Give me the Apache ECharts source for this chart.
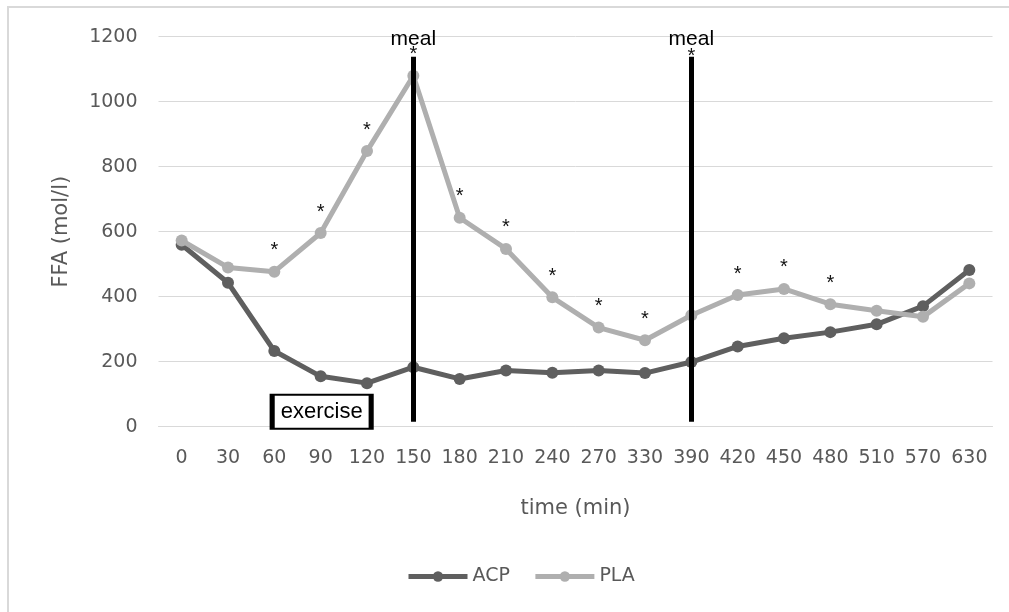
<!DOCTYPE html>
<html>
<head>
<meta charset="utf-8">
<script src="https://cdn.jsdelivr.net/npm/echarts@6/dist/echarts.min.js"></script>
<style>
html,body{margin:0;padding:0;background:#fff;overflow:hidden;}
#c{width:1009px;height:612px;}
</style>
</head>
<body>
<div id="c"></div>
<script>
var categories = ['0','30','60','90','120','150','180','210','240','270','330','390','420','450','480','510','570','630'];
var acp = [560, 443, 233, 155, 134, 183, 147, 173, 166, 173, 165, 199, 247, 272, 291, 315, 371, 482];
var pla = [573, 490, 477, 596, 848, 1080, 643, 547, 398, 305, 266, 343, 405, 424, 377, 357, 338, 441];
var sig = ['', '', '*', '*', '*', '*', '*', '*', '*', '*', '*', '', '*', '*', '*', '', '', ''];
var mealTimes = ['150', '390'];
var mealRange = [15, 1138];
var yTicks = { min: 0, max: 1200, interval: 200 };

var chart = echarts.init(document.getElementById('c'), null, {renderer: 'canvas'});
var txt = '#595959';
var tickFont = 'DejaVu Sans';

var option = {
  animation: false,
  backgroundColor: '#fff',
  graphic: [{
    type: 'polyline', silent: true, z: -1,
    shape: { points: [[8, 640], [8, 7], [1040, 7]] },
    style: { fill: 'none', stroke: '#d9d9d9', lineWidth: 2 }
  }],
  grid: { left: 158.5, right: 16.5, top: 36.7, bottom: 185.3, containLabel: false },
  legend: {
    data: ['ACP', 'PLA'],
    left: 406, top: 567, padding: 0,
    itemWidth: 59, itemHeight: 13, itemGap: 23,
    lineStyle: { width: 5 },
    textStyle: { color: txt, fontFamily: tickFont, fontSize: 19 }
  },
  xAxis: {
    type: 'category',
    data: categories,
    boundaryGap: true,
    name: 'time (min)',
    nameLocation: 'middle',
    nameGap: 71,
    nameTextStyle: { color: txt, fontFamily: tickFont, fontSize: 21 },
    axisLine: { show: true, lineStyle: { color: '#d9d9d9', width: 1 } },
    axisTick: { show: false },
    axisLabel: { color: txt, fontFamily: tickFont, fontSize: 19, margin: 22, interval: 0 },
    splitLine: { show: false }
  },
  yAxis: {
    type: 'value',
    min: yTicks.min, max: yTicks.max, interval: yTicks.interval,
    name: 'FFA (mol/l)',
    nameLocation: 'middle',
    nameGap: 86,
    nameRotate: 90,
    nameTextStyle: { color: txt, fontFamily: tickFont, fontSize: 21 },
    axisLine: { show: false },
    axisTick: { show: false },
    axisLabel: { color: txt, fontFamily: tickFont, fontSize: 19, margin: 21,
      formatter: function (v) { return String(v); } },
    splitLine: { lineStyle: { color: '#d9d9d9', width: 1 } }
  },
  series: [
    {
      name: 'ACP', type: 'line', data: acp, z: 2,
      symbol: 'circle', symbolSize: 12,
      lineStyle: { color: '#5f5f5f', width: 5 },
      itemStyle: { color: '#5f5f5f' }
    },
    {
      name: 'PLA', type: 'line', data: pla, z: 3,
      symbol: 'circle', symbolSize: 12,
      lineStyle: { color: '#afafaf', width: 5 },
      itemStyle: { color: '#afafaf' },
      label: {
        show: true, position: 'top', distance: 5,
        formatter: function (p) { return sig[p.dataIndex]; },
        color: '#111', fontFamily: 'Liberation Sans', fontSize: 20
      }
    },
    {
      name: 'annot', type: 'line', data: [], z: 6,
      markLine: {
        silent: true, symbol: ['none', 'none'], animation: false,
        lineStyle: { color: '#000', width: 5, type: 'solid' },
        label: {
          show: true, position: 'end', distance: 7, formatter: 'meal',
          color: '#000', fontFamily: 'Liberation Sans', fontSize: 21
        },
        data: mealTimes.map(function (t) {
          return [{ coord: [t, mealRange[0]] }, { coord: [t, mealRange[1]] }];
        })
      },
      markPoint: {
        silent: true, animation: false,
        data: [
          {
            coord: ['390', 1140], symbol: 'circle', symbolSize: 1,
            itemStyle: { color: 'rgba(0,0,0,0)' },
            label: { show: true, position: 'inside', formatter: '*', color: '#111', fontFamily: 'Liberation Sans', fontSize: 20 }
          },
          {
            coord: ['90', 46], symbol: 'rect', symbolSize: [99, 34], symbolOffset: [1, 0],
            itemStyle: { color: '#fff', borderColor: '#000', borderWidth: 3 },
            label: { show: true, position: 'inside', formatter: 'exercise', color: '#000', fontFamily: 'Liberation Sans', fontSize: 22 }
          }
        ]
      }
    }
  ]
};
chart.setOption(option);
</script>
</body>
</html>
